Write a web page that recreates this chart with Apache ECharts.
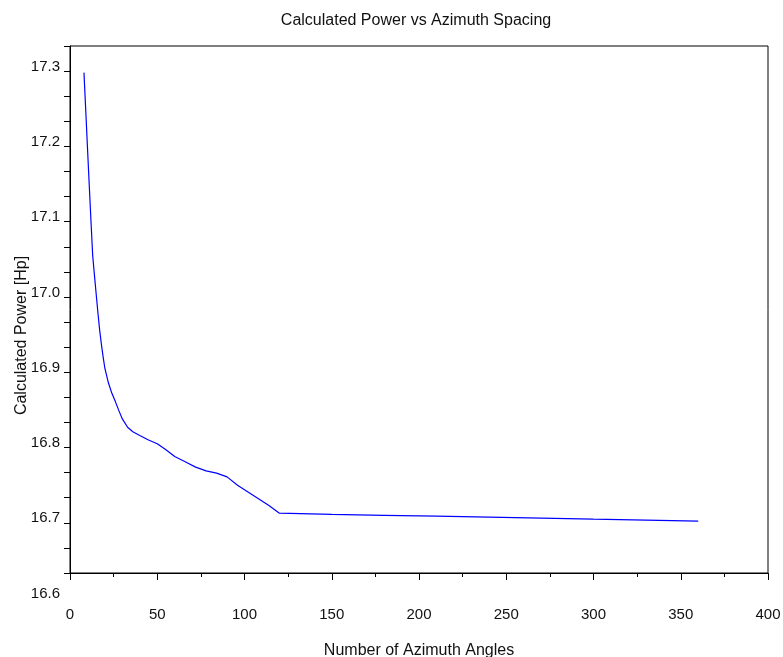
<!DOCTYPE html>
<html>
<head>
<meta charset="utf-8">
<script src="https://cdn.jsdelivr.net/npm/echarts@6/dist/echarts.min.js"></script>
<style>
html,body{margin:0;padding:0;background:#fff;}
#chart{width:783px;height:657px;}
</style>
</head>
<body>
<div id="chart"></div>
<script>
// Number of azimuth angles (x) and calculated power (y)
const azimuthCounts = [8, 9, 10, 11, 12, 13, 14, 15, 16, 17, 18, 19, 20, 22, 24, 26, 28, 30, 33, 36, 40, 45, 50, 55, 60, 66, 72, 78, 84, 90, 96, 102, 108, 114, 120, 150, 180, 210, 240, 270, 300, 330, 360];
const powerValues = [17.298, 17.249, 17.199, 17.150, 17.102, 17.055, 17.029, 17.004, 16.979, 16.956, 16.937, 16.920, 16.905, 16.886, 16.872, 16.861, 16.849, 16.838, 16.827, 16.821, 16.816, 16.810, 16.805, 16.797, 16.788, 16.781, 16.774, 16.769, 16.766, 16.761, 16.750, 16.741, 16.732, 16.723, 16.7128, 16.7113, 16.7100, 16.7088, 16.7076, 16.7062, 16.7048, 16.7035, 16.7022];

const titleText = 'Calculated Power vs Azimuth Spacing';
const xAxisName = 'Number of Azimuth Angles';
const yAxisName = 'Calculated Power [Hp]';
const xTickStep = 50;
const xMax = 400;
const yLabelMin = 16.6;
const yLabelStep = 0.1;
const yTickStep = 1 / 30;
const yMinFrame = 16.6 + 1 / 30;
const yMaxFrame = 17.3 + 1 / 30;

const points = azimuthCounts.map((x, i) => [x, powerValues[i]]);
const FONT = '"Liberation Sans", Arial, sans-serif';
const TXT = '#111';

const chart = echarts.init(document.getElementById('chart'), null, {renderer: 'canvas'});
chart.setOption({
  animation: false,
  backgroundColor: '#ffffff',
  title: {
    text: titleText,
    left: 411,
    top: 8,
    textAlign: 'center',
    textStyle: {fontFamily: FONT, fontSize: 16, fontWeight: 'normal', color: TXT}
  },
  grid: [
    {left: 70, right: 15, top: 46, bottom: 84, containLabel: false, outerBoundsMode: 'none',
     show: true, borderColor: '#000', borderWidth: 1, backgroundColor: 'transparent'},
    {left: 70, right: 15, top: 46, bottom: 59, containLabel: false, outerBoundsMode: 'none', show: false}
  ],
  xAxis: [
    {
      type: 'value', gridIndex: 0, min: 0, max: xMax, interval: xTickStep,
      name: xAxisName, nameLocation: 'middle', nameGap: 70,
      nameTextStyle: {fontFamily: FONT, fontSize: 16, color: TXT},
      axisLine: {show: true, lineStyle: {color: '#000', width: 1}},
      axisTick: {show: true, length: 7, lineStyle: {color: '#000'}},
      minorTick: {show: true, splitNumber: 2, length: 4, lineStyle: {color: '#000'}},
      axisLabel: {margin: 34, fontFamily: FONT, fontSize: 15, color: TXT},
      splitLine: {show: false}
    },
    {type: 'value', gridIndex: 1, min: 0, max: xMax, show: false}
  ],
  yAxis: [
    {
      type: 'value', gridIndex: 0, min: yMinFrame, max: yMaxFrame, interval: yTickStep,
      name: yAxisName, nameLocation: 'middle', nameGap: 40,
      nameTextStyle: {fontFamily: FONT, fontSize: 16, color: TXT, padding: [0, 52, 0, 0]},
      axisLine: {show: true, lineStyle: {color: '#000', width: 1}},
      axisTick: {show: true, length: 6, lineStyle: {color: '#000'}},
      axisLabel: {show: false},
      splitLine: {show: false}
    },
    {
      type: 'value', gridIndex: 1, min: yLabelMin, max: yMaxFrame, interval: yLabelStep,
      axisLine: {show: false}, axisTick: {show: false}, splitLine: {show: false},
      axisLabel: {
        margin: 10, fontFamily: FONT, fontSize: 15, color: TXT,
        verticalAlign: 'bottom', lineHeight: 9,
        formatter: function (v) {
          const t = v * 10;
          return Math.abs(t - Math.round(t)) < 1e-4 ? v.toFixed(1) : '';
        }
      }
    }
  ],
  series: [{
    type: 'line', xAxisIndex: 0, yAxisIndex: 0, data: points,
    showSymbol: false, symbol: 'none',
    lineStyle: {color: '#0000ff', width: 1.2}
  }]
});
</script>
</body>
</html>
